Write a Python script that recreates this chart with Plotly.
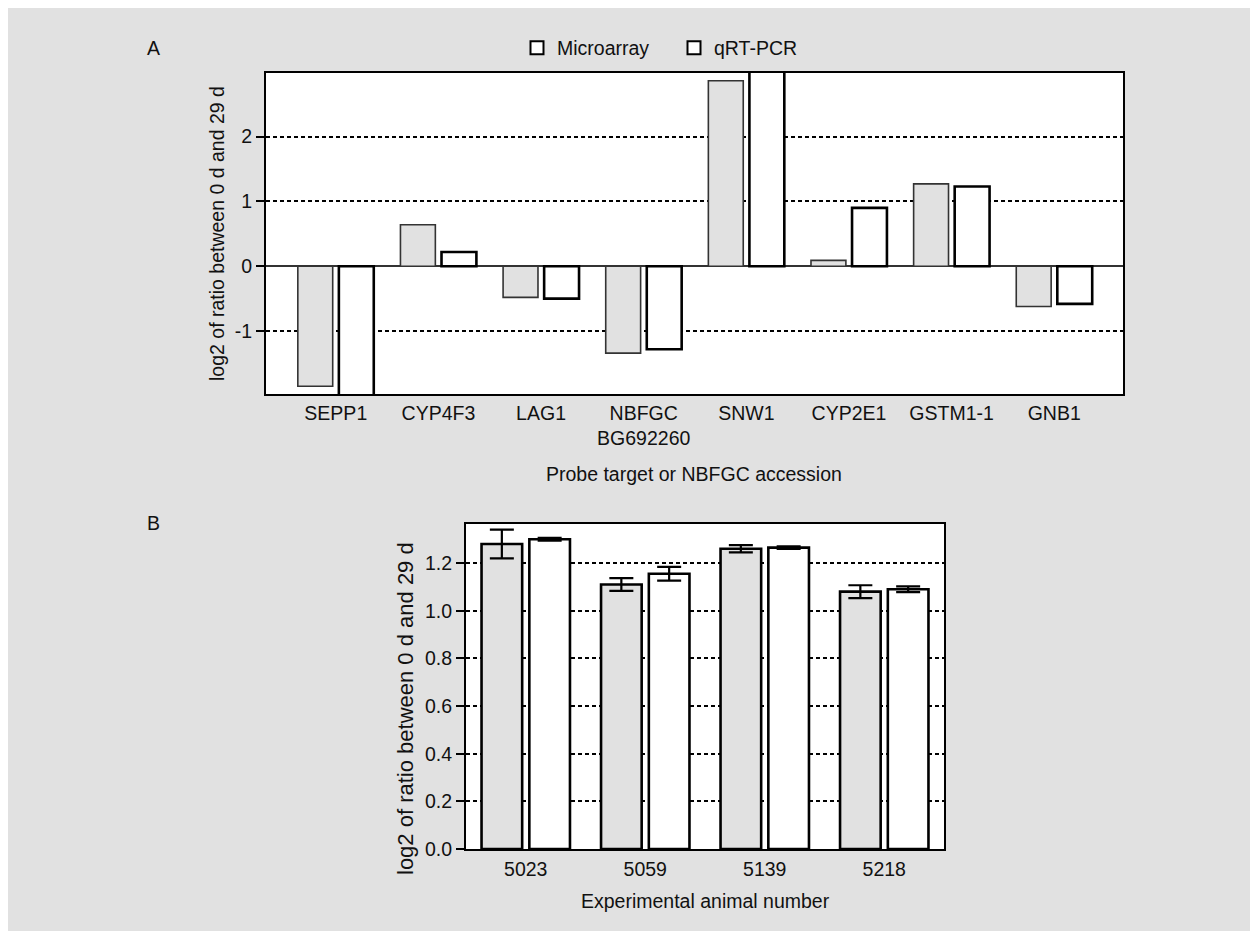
import plotly.graph_objects as go

# ---------------- data ----------------
probe_labels = ["SEPP1", "CYP4F3", "LAG1", "NBFGC<br>BG692260", "SNW1", "CYP2E1", "GSTM1-1", "GNB1"]
microarray_a = [-1.85, 0.64, -0.48, -1.34, 2.86, 0.09, 1.27, -0.62]
qrtpcr_a = [-2.2, 0.22, -0.50, -1.28, 3.2, 0.90, 1.23, -0.58]

animal_labels = ["5023", "5059", "5139", "5218"]
microarray_b = [1.28, 1.11, 1.26, 1.08]
microarray_b_err = [0.06, 0.027, 0.015, 0.027]
qrtpcr_b = [1.30, 1.155, 1.265, 1.09]
qrtpcr_b_err = [0.006, 0.029, 0.005, 0.012]

yticks_a = [-1, 0, 1, 2]
yticks_b = [0.0, 0.2, 0.4, 0.6, 0.8, 1.0, 1.2]

# ---------------- style ----------------
OFF = 8  # page body margin of the browser
W, H = 1258 - OFF, 931 - OFF
BG = "#e1e1e1"
GRAY_FILL = "#e1e1e1"
FONT = "Liberation Sans, Arial, sans-serif"
FS = 19.5

def px_x(p):
    return (p - OFF) / W

def px_y(p):
    return 1 - (p - OFF) / H

fig = go.Figure()

# Panel A bars
fig.add_trace(go.Bar(
    x=list(range(len(probe_labels))), y=microarray_a, name="Microarray",
    marker=dict(color=GRAY_FILL, line=dict(color="#333333", width=1.6)),
    xaxis="x", yaxis="y", showlegend=False,
))
fig.add_trace(go.Bar(
    x=list(range(len(probe_labels))), y=qrtpcr_a, name="qRT-PCR",
    marker=dict(color="white", line=dict(color="black", width=2.6)),
    xaxis="x", yaxis="y", showlegend=False,
))

# Panel B bars
fig.add_trace(go.Bar(
    x=list(range(len(animal_labels))), y=microarray_b, name="Microarray",
    marker=dict(color=GRAY_FILL, line=dict(color="black", width=2.6)),
    error_y=dict(type="data", array=microarray_b_err, color="black", thickness=2.2, width=12),
    xaxis="x2", yaxis="y2", showlegend=False,
))
fig.add_trace(go.Bar(
    x=list(range(len(animal_labels))), y=qrtpcr_b, name="qRT-PCR",
    marker=dict(color="white", line=dict(color="black", width=2.6)),
    error_y=dict(type="data", array=qrtpcr_b_err, color="black", thickness=2.2, width=12),
    xaxis="x2", yaxis="y2", showlegend=False,
))

# Legend entries (white squares, as in the reference)
for nm in ["Microarray", "qRT-PCR"]:
    fig.add_trace(go.Scatter(
        x=[None], y=[None], mode="markers", name=nm,
        marker=dict(symbol="square", size=13, color="white", line=dict(color="black", width=2)),
        xaxis="x", yaxis="y", showlegend=True,
    ))

grid = dict(showgrid=True, gridcolor="black", gridwidth=1.5, griddash="4px,3px")
frame = dict(showline=True, linecolor="black", linewidth=2.2, mirror=True)

fig.update_layout(
    width=W, height=H,
    paper_bgcolor=BG, plot_bgcolor="white",
    font=dict(family=FONT, size=FS, color="#111111"),
    margin=dict(l=0, r=0, t=0, b=0),
    barmode="group", bargap=0.2, bargroupgap=0.15,
    xaxis=dict(
        domain=[px_x(266), px_x(1123)], anchor="y",
        range=[-0.68, 7.67],
        tickmode="array", tickvals=list(range(len(probe_labels))), ticktext=probe_labels,
        ticks="",
        showgrid=False, zeroline=False, automargin=False, **frame,
    ),
    yaxis=dict(
        domain=[px_y(394), px_y(73)], anchor="x",
        range=[-1.97, 2.98],
        tickmode="array", tickvals=yticks_a, ticktext=[str(v) for v in yticks_a],
        ticks="outside", ticklen=8, tickwidth=1.5, tickcolor="black",
        zeroline=True, zerolinecolor="#333333", zerolinewidth=1.5,
        automargin=False, **grid, **frame,
    ),
    xaxis2=dict(
        domain=[px_x(466), px_x(944)], anchor="y2",
        range=[-0.5, 3.5],
        tickmode="array", tickvals=list(range(len(animal_labels))), ticktext=animal_labels,
        ticks="outside", ticklen=1, tickcolor="rgba(0,0,0,0)",
        showgrid=False, zeroline=False, automargin=False, **frame,
    ),
    yaxis2=dict(
        domain=[px_y(849), px_y(524)], anchor="x2",
        range=[0, 1.364],
        tickmode="array", tickvals=yticks_b, ticktext=[f"{v:.1f}" for v in yticks_b],
        ticks="outside", ticklen=8, tickwidth=1.5, tickcolor="black",
        zeroline=False, automargin=False, **grid, **frame,
    ),
    legend=dict(
        orientation="h", x=px_x(517), xanchor="left", y=px_y(48), yanchor="middle",
        bgcolor="rgba(0,0,0,0)", font=dict(size=FS),
        entrywidth=112, entrywidthmode="pixels",
    ),
)

ann = dict(showarrow=False, xref="paper", yref="paper")
f = dict(family=FONT, size=FS, color="#111111")
fig.add_annotation(text="A", x=px_x(153), y=px_y(48), xanchor="center", yanchor="middle", font=f, **ann)
fig.add_annotation(text="B", x=px_x(153), y=px_y(523), xanchor="center", yanchor="middle", font=f, **ann)
fig.add_annotation(text="log2 of ratio between 0 d and 29 d", textangle=-90,
                   x=px_x(217), y=px_y(233), xanchor="center", yanchor="middle", font=f, **ann)
fig.add_annotation(text="Probe target or NBFGC accession",
                   x=px_x(694), y=px_y(474), xanchor="center", yanchor="middle", font=f, **ann)
fig.add_annotation(text="log2 of ratio between 0 d and 29 d", textangle=-90,
                   x=px_x(405), y=px_y(709), xanchor="center", yanchor="middle",
                   font=dict(family=FONT, size=22, color="#111111"), **ann)
fig.add_annotation(text="Experimental animal number",
                   x=px_x(705), y=px_y(901), xanchor="center", yanchor="middle", font=f, **ann)

fig.write_html("out.html")
